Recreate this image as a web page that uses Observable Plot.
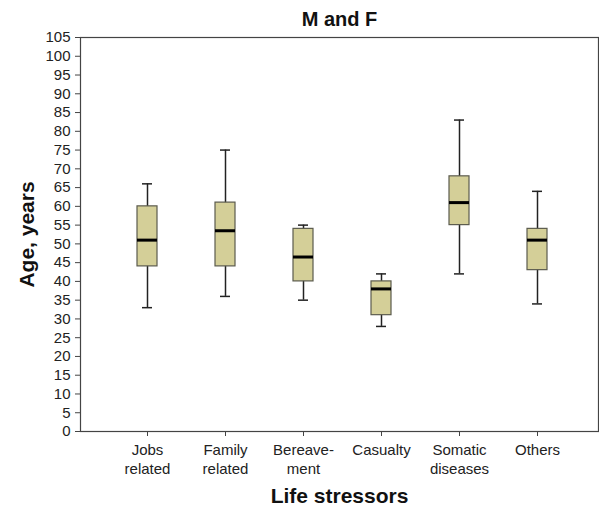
<!DOCTYPE html>
<html>
<head>
<meta charset="utf-8">
<script src="https://cdn.jsdelivr.net/npm/d3@7"></script>
<script src="https://cdn.jsdelivr.net/npm/@observablehq/plot@0.6"></script>
<style>
  html, body { margin: 0; padding: 0; background: #fff; }
</style>
</head>
<body>
<div id="chart"></div>
<script>
const categories = ["Jobs related", "Family related", "Bereavement", "Casualty", "Somatic diseases", "Others"];
const tickLabels = ["Jobs\nrelated", "Family\nrelated", "Bereave-\nment", "Casualty", "Somatic\ndiseases", "Others"];
const whiskerLow = [33, 36, 35, 28, 42, 34];
const q1 = [44, 44, 40, 31, 55, 43];
const median = [51, 53.5, 46.5, 38, 61, 51];
const q3 = [60, 61, 54, 40, 68, 54];
const whiskerHigh = [66, 75, 55, 42, 83, 64];
const yTicks = [0,5,10,15,20,25,30,35,40,45,50,55,60,65,70,75,80,85,90,95,100,105];
const title = "M and F";
const xTitle = "Life stressors";
const yTitle = "Age, years";

const data = categories.map((c, i) => ({
  cat: c, lo: whiskerLow[i], q1: q1[i], med: median[i], q3: q3[i], hi: whiskerHigh[i]
}));
const labelOf = new Map(categories.map((c, i) => [c, tickLabels[i]]));

const boxFill = "#d4cf98";
const boxStroke = "#5b5b4e";
const ink = "#222";

const chart = Plot.plot({
  width: 599,
  height: 510,
  marginLeft: 80,
  marginRight: 1,
  marginTop: 37,
  marginBottom: 79,
  style: { fontFamily: "'Liberation Sans', Arial, sans-serif", fontSize: "15px", color: "#222", background: "#fff" },
  x: { type: "band", domain: categories, paddingInner: 0.745, paddingOuter: 0, insetLeft: 56, insetRight: 50 },
  y: { domain: [0, 105] },
  marks: [
    Plot.frame({ stroke: "#444", strokeWidth: 1.2 }),
    Plot.axisY({ ticks: yTicks, tickSize: 5, tickPadding: 5, label: null, stroke: "#444", fontSize: 15 }),
    Plot.axisX({ tickSize: 5, tickPadding: 5, label: null, stroke: "#444", fontSize: 15, lineHeight: 1.27,
                 tickFormat: d => labelOf.get(d) }),
    Plot.ruleX(data, { x: "cat", y1: "lo", y2: "hi", stroke: ink, strokeWidth: 1.5 }),
    Plot.tickY(data, { x: "cat", y: "lo", stroke: ink, strokeWidth: 1.5, insetLeft: 5, insetRight: 5 }),
    Plot.tickY(data, { x: "cat", y: "hi", stroke: ink, strokeWidth: 1.5, insetLeft: 5, insetRight: 5 }),
    Plot.barY(data, { x: "cat", y1: "q1", y2: "q3", fill: boxFill, stroke: boxStroke, strokeWidth: 1.2 }),
    Plot.tickY(data, { x: "cat", y: "med", stroke: "#000", strokeWidth: 3 }),
    Plot.text([title], { frameAnchor: "top", lineAnchor: "middle", textAnchor: "middle", dy: -18, text: d => d, fontWeight: "bold", fontSize: 20, fill: "#111" }),
    Plot.text([xTitle], { frameAnchor: "bottom", lineAnchor: "middle", textAnchor: "middle", dy: 65, text: d => d, fontWeight: "bold", fontSize: 21, fill: "#111" }),
    Plot.text([yTitle], { frameAnchor: "left", lineAnchor: "middle", textAnchor: "middle", dx: -53, rotate: -90, text: d => d, fontWeight: "bold", fontSize: 21, fill: "#111" })
  ]
});
document.getElementById("chart").appendChild(chart);
</script>
</body>
</html>
